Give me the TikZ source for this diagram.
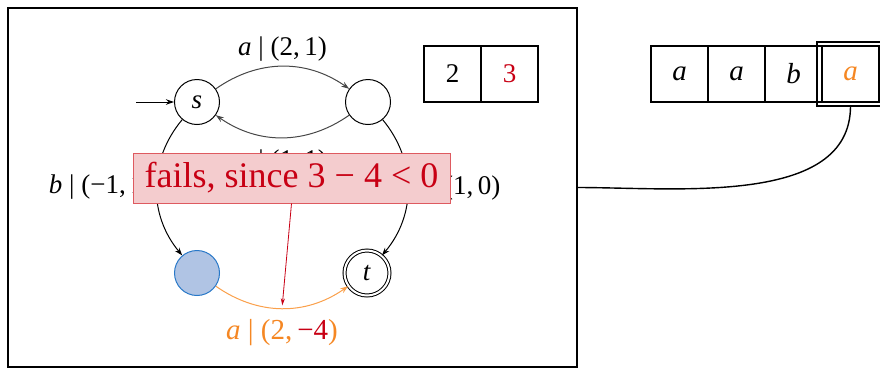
\documentclass[tikz,border=0pt]{standalone}
\usepackage{fontspec}
\setmainfont{Liberation Serif}
\usetikzlibrary{positioning,arrows.meta}
\usepackage{xcolor}
\definecolor{failred}{RGB}{200,0,20}
\definecolor{failfill}{RGB}{244,204,206}
\definecolor{failline}{RGB}{222,90,96}
\definecolor{runorange}{RGB}{245,135,35}
\definecolor{edgeorange}{RGB}{250,160,75}
\definecolor{curfill}{RGB}{176,196,228}
\definecolor{curline}{RGB}{40,120,200}

\begin{document}
\begin{tikzpicture}[x=1pt, y=1pt, every node/.style={font=\fontsize{27}{31}\selectfont},
  state/.style={draw, circle, minimum size=45pt, inner sep=0pt, line width=1pt},
  trans/.style={draw=black!72, line width=1pt, -{Stealth[length=8pt,width=5.5pt]}},
  cell/.style={draw, line width=1.8pt, minimum width=57pt, minimum height=56pt, inner sep=0pt, outer sep=0pt}]
\useasboundingbox (0,0) rectangle (880,-368);
\node[draw, line width=1.8pt, minimum width=569pt, minimum height=359pt, inner sep=0pt, outer sep=0pt] (frame) at (292.5,-187.5) {};
% automaton
\node[state] (s) at (197,-102) {\textit{s}};
\node[state, right=125pt of s] (r) {};
\node[state, fill=curfill, draw=curline] (u) at (197,-273) {};
\node[state, double, double distance=2pt] (t) at (367,-273) {\textit{t}};
\coordinate (init) at (136,-102);
\draw[trans, draw=black] (init) -- (s);
\draw[trans] (s) to[bend left=35] node[above=1pt] {\textit{a} | (2,\,1)} (r);
\draw[trans] (r) to[bend left=35] node[below=8pt] {\textit{a} | (1,\,1)} (s);
\draw[trans, draw=black] (s) to[bend right=40] node[left] {\textit{b} | (−1,\,1)} (u);
\draw[trans, draw=black] (r) to[bend left=40] node[right] {\textit{b} | (1,\,0)} (t);
\draw[trans, draw=edgeorange] (u) to[bend right=35] coordinate[pos=0.5] (hit) node[below=7pt, text=runorange, font=\fontsize{29}{33}\selectfont] {\textit{a} | (2,\,\textcolor{failred}{−4})} (t);
% counters
\node[cell] (c1) at (452.5,-74) {2};
\node[cell, right=0pt of c1, text=failred] (c2) {3};
% failure note
\node[draw=failline, fill=failfill, line width=1pt, text=failred, font=\fontsize{36}{40}\selectfont, minimum width=317pt, minimum height=50pt, inner sep=0pt] (fail) at (291.5,-178) {fails, since 3 − 4 < 0};
\draw[failred, line width=0.8pt, -{Stealth[length=7pt,width=4pt]}, shorten >=3pt] (fail.south) -- (hit);
% input tape
\node[cell, font=\fontsize{29}{33}\selectfont] (w1) at (679.5,-74) {\textit{a}};
\node[cell, font=\fontsize{29}{33}\selectfont, right=0pt of w1] (w2) {\textit{a}};
\node[cell, font=\fontsize{29}{33}\selectfont, right=0pt of w2] (w3) {\textit{b}};
\node[cell, font=\fontsize{29}{33}\selectfont, right=0pt of w3, text=runorange] (w4) {\textit{a}};
\node[draw, line width=1.8pt, minimum width=67pt, minimum height=64pt, inner sep=0pt, outer sep=0pt] (head) at (w4) {};
\draw[line width=1.4pt] (head.south) to[out=-90, in=0, looseness=0.9] (frame.east);
\end{tikzpicture}
\end{document}
